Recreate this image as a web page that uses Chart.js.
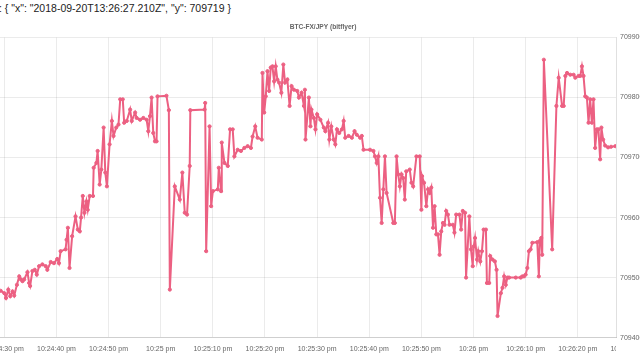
<!DOCTYPE html>
<html><head><meta charset="utf-8">
<script src="https://cdn.jsdelivr.net/npm/chart.js@4/dist/chart.umd.min.js"></script>
<style>
html,body{margin:0;padding:0;width:640px;height:360px;overflow:hidden;background:#fff;}
#info{position:absolute;left:-1px;top:2px;font:10.5px "Liberation Sans",Arial,sans-serif;color:#222;white-space:nowrap;}
#wrap{position:absolute;left:-100px;top:15px;width:846px;height:345px;}
</style></head><body>
<div id="info">: { "x": "2018-09-20T13:26:27.210Z", "y": 709719 }</div>
<div id="wrap"><canvas id="c"></canvas></div>
<script>
const chartTitle = 'BTC-FX/JPY (bitflyer)';
// seconds after 10:24:00 pm
const seconds = [29.3, 30.00, 30.32, 30.76, 31.14, 31.58, 31.90, 32.42, 32.86, 33.18, 33.49, 33.81, 34.44, 34.76, 34.95, 35.39, 35.85, 36.23, 36.67, 37.30, 37.94, 38.25, 38.90, 39.52, 40.15, 40.48, 40.80, 41.75, 41.94, 42.19, 42.51, 43.01, 43.66, 44.10, 44.48, 44.72, 45.05, 45.37, 45.75, 46.00, 46.38, 47.01, 47.14, 47.66, 47.90, 48.29, 48.61, 49.05, 49.37, 49.68, 50.19, 50.63, 50.95, 51.47, 51.90, 52.23, 52.72, 52.99, 53.49, 54.13, 54.44, 55.09, 55.39, 56.04, 56.67, 57.30, 57.62, 57.94, 58.25, 58.57, 58.90, 59.20, 59.39, 61.10, 61.56, 61.75, 62.70, 63.66, 64.15, 64.61, 65.05, 65.56, 65.68, 68.42, 68.53, 68.72, 69.37, 69.68, 70.00, 70.95, 71.14, 71.58, 71.71, 72.23, 72.86, 73.30, 73.81, 74.13, 74.76, 75.39, 76.04, 76.67, 77.30, 77.62, 78.13, 78.57, 79.39, 79.52, 79.85, 80.15, 80.48, 80.80, 81.10, 81.43, 81.75, 82.06, 82.38, 82.70, 83.14, 83.52, 83.85, 84.29, 84.72, 85.10, 85.56, 86.19, 86.51, 87.01, 87.47, 87.66, 87.77, 88.42, 88.72, 88.91, 89.37, 89.68, 90.00, 90.63, 91.28, 91.58, 92.10, 92.34, 92.72, 93.18, 93.49, 93.81, 94.25, 94.76, 95.09, 95.39, 96.04, 96.67, 97.18, 97.62, 98.25, 98.57, 98.90, 100.15, 100.80, 101.10, 101.43, 101.75, 102.06, 102.38, 102.70, 103.01, 103.33, 104.61, 104.91, 105.24, 105.56, 105.87, 106.19, 106.51, 106.82, 107.09, 107.77, 108.10, 108.42, 109.05, 109.68, 110.00, 110.13, 110.51, 110.95, 111.28, 111.58, 111.90, 112.23, 112.53, 112.86, 113.18, 113.49, 113.81, 114.13, 114.44, 114.76, 115.09, 115.39, 116.04, 116.34, 116.67, 117.30, 117.62, 117.94, 118.38, 118.57, 119.20, 119.52, 119.85, 120.04, 120.29, 120.67, 120.91, 121.30, 121.62, 121.94, 122.38, 122.57, 123.01, 123.20, 123.66, 124.10, 124.42, 124.61, 125.24, 125.56, 125.87, 126.19, 126.51, 126.82, 128.10, 129.05, 129.37, 129.68, 130.00, 130.32, 130.63, 130.95, 131.28, 132.23, 132.53, 132.72, 132.99, 133.18, 133.49, 135.09, 135.90, 136.34, 136.99, 137.30, 137.62, 137.94, 138.57, 139.20, 139.52, 140.15, 140.48, 140.80, 141.10, 141.43, 141.75, 142.06, 142.38, 142.70, 143.01, 143.33, 143.66, 143.96, 144.29, 144.53, 144.86, 145.24, 145.81, 146.38, 147.21];
const prices = [709478, 709474, 709466, 709480, 709469, 709477, 709470, 709488, 709502, 709497, 709494, 709497, 709509, 709491, 709486, 709511, 709513, 709505, 709519, 709522, 709519, 709513, 709526, 709524, 709531, 709524, 709544, 709547, 709563, 709583, 709516, 709569, 709602, 709580, 709577, 709600, 709636, 709608, 709627, 709613, 709636, 709636, 709683, 709691, 709711, 709655, 709680, 709750, 709675, 709652, 709722, 709761, 709736, 709750, 709755, 709797, 709797, 709758, 709761, 709780, 709761, 709775, 709766, 709763, 709766, 709763, 709744, 709769, 709800, 709741, 709727, 709727, 709802, 709803, 709779, 709480, 709652, 709630, 709675, 709608, 709605, 709686, 709779, 709780, 709791, 709544, 709752, 709619, 709644, 709647, 709683, 709644, 709725, 709691, 709686, 709747, 709747, 709702, 709713, 709711, 709716, 709719, 709716, 709735, 709752, 709733, 709730, 709841, 709775, 709802, 709844, 709811, 709850, 709852, 709827, 709852, 709830, 709825, 709808, 709855, 709825, 709830, 709786, 709819, 709813, 709811, 709800, 709808, 709786, 709813, 709730, 709800, 709752, 709780, 709766, 709747, 709772, 709763, 709750, 709744, 709758, 709730, 709752, 709730, 709722, 709747, 709741, 709747, 709761, 709733, 709736, 709733, 709744, 709738, 709733, 709736, 709713, 709713, 709711, 709702, 709691, 709702, 709633, 709591, 709647, 709702, 709641, 709591, 709591, 709702, 709672, 709652, 709672, 709666, 709630, 709677, 709680, 709658, 709652, 709702, 709702, 709613, 709669, 709658, 709619, 709647, 709641, 709650, 709583, 709619, 709572, 709572, 709538, 709577, 709591, 709588, 709611, 709605, 709588, 709588, 709575, 709605, 709605, 709580, 709611, 709608, 709500, 709602, 709547, 709519, 709552, 709566, 709530, 709544, 709527, 709544, 709580, 709580, 709491, 709491, 709536, 709530, 709527, 709513, 709436, 709474, 709483, 709502, 709488, 709500, 709500, 709500, 709500, 709502, 709502, 709505, 709516, 709544, 709547, 709558, 709559, 709502, 709561, 709566, 709538, 709863, 709547, 709786, 709833, 709786, 709786, 709836, 709841, 709838, 709838, 709833, 709836, 709836, 709852, 709836, 709802, 709800, 709758, 709797, 709758, 709797, 709716, 709747, 709747, 709697, 709750, 709730, 709720, 709717, 709718, 709719];
const xTickValues = [20, 30, 40, 50, 60, 70, 80, 90, 100, 110, 120, 130, 140, 150];
const xTickLabels = ['10:24:20 pm', '10:24:30 pm', '10:24:40 pm', '10:24:50 pm', '10:25 pm', '10:25:10 pm', '10:25:20 pm', '10:25:30 pm', '10:25:40 pm', '10:25:50 pm', '10:26 pm', '10:26:10 pm', '10:26:20 pm', '10:26:30 pm'];
const yTickValues = [709400, 709500, 709600, 709700, 709800, 709900];
const xMin = 10.95, xMax = 147.33;

const points = seconds.map((s, i) => ({x: s, y: prices[i]}));
const lineColor = 'rgb(236, 96, 130)';

Chart.defaults.font.family = '"Liberation Sans", Arial, sans-serif';
Chart.defaults.color = '#666';

const clipXLabels = {
  id: 'clipXLabels',
  afterLayout(chart) {
    const sx = chart.scales.x;
    if (sx && !sx._clipPatched) {
      const orig = sx.drawLabels.bind(sx);
      sx.drawLabels = function(area) {
        const ctx = this.ctx;
        ctx.save();
        ctx.beginPath();
        ctx.rect(0, 0, chart.chartArea.right, chart.height);
        ctx.clip();
        orig(area);
        ctx.restore();
      };
      sx._clipPatched = true;
    }
  }
};

new Chart(document.getElementById('c'), {
  type: 'line',
  data: { datasets: [{
    label: chartTitle,
    data: points,
    borderColor: lineColor,
    backgroundColor: lineColor,
    borderWidth: 2,
    pointRadius: 1.6,
    pointBorderWidth: 1,
    tension: 0,
    fill: false
  }]},
  plugins: [clipXLabels],
  options: {
    responsive: true,
    maintainAspectRatio: false,
    animation: false,
    layout: { padding: 0 },
    plugins: {
      legend: { display: false },
      tooltip: { enabled: false },
      title: { display: true, text: chartTitle, color: '#666',
        font: { size: 6.6, weight: 'bold' }, padding: { top: 7.8, bottom: 6.8 } }
    },
    scales: {
      x: {
        type: 'linear', min: xMin, max: xMax,
        afterBuildTicks: (s) => { s.ticks = xTickValues.map(v => ({value: v})); },
        ticks: { autoSkip: false, maxRotation: 0, padding: 7, font: { size: 7 }, color: '#666',
          callback: (v) => xTickLabels[xTickValues.indexOf(v)] },
        grid: { drawTicks: false, color: (c) => (c.tick && c.tick.value > xMax) ? 'rgba(0,0,0,0)' : 'rgba(0,0,0,0.08)' },
        border: { color: 'rgba(0,0,0,0.12)' }
      },
      y: {
        position: 'right', min: 709400, max: 709900,
        afterBuildTicks: (s) => { s.ticks = yTickValues.map(v => ({value: v})); },
        afterFit: (s) => { s.width = 130; },
        ticks: { padding: 4, font: { size: 7 }, color: '#666', callback: (v) => String(v) },
        grid: { drawTicks: false, color: 'rgba(0,0,0,0.08)' },
        border: { color: 'rgba(0,0,0,0.12)' }
      }
    }
  }
});
</script>
</body></html>
